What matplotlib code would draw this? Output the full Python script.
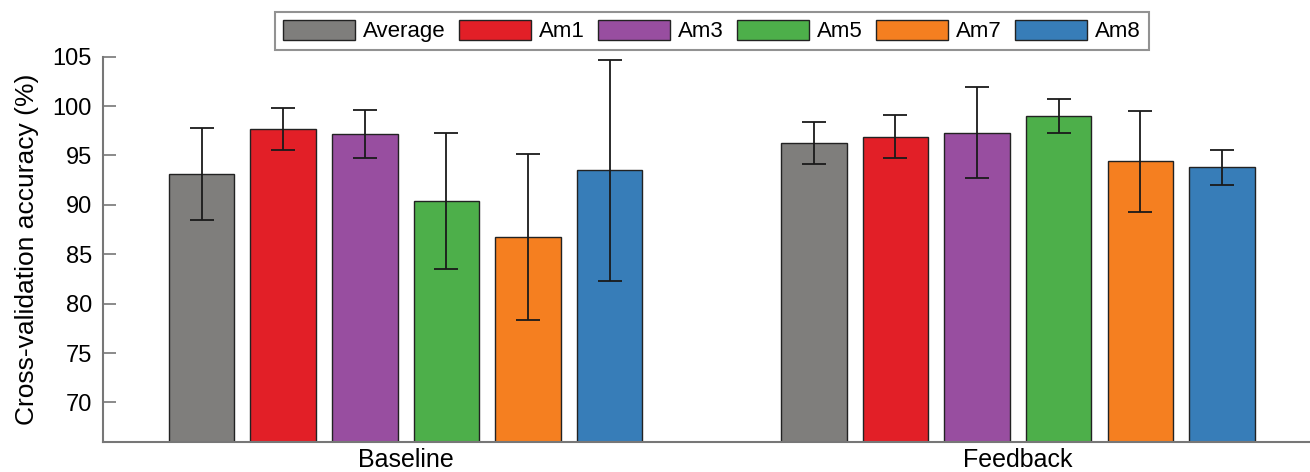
import numpy as np
import matplotlib
matplotlib.use('Agg')
import matplotlib.pyplot as plt

plt.rcParams['font.family'] = ['Liberation Sans', 'DejaVu Sans']

# data
groups = ['Baseline', 'Feedback']
series = ['Average', 'Am1', 'Am3', 'Am5', 'Am7', 'Am8']
baseline_mean = [93.1, 97.7, 97.2, 90.4, 86.7, 93.5]
baseline_err = [4.65, 2.15, 2.45, 6.9, 8.4, 11.2]
feedback_mean = [96.3, 96.9, 97.3, 99.0, 94.4, 93.8]
feedback_err = [2.13, 2.2, 4.6, 1.73, 5.1, 1.75]
colors = ['#7f7e7c', '#e21f27', '#984ea0', '#4daf4a', '#f57f20', '#377db8']

fig = plt.figure(figsize=(13.1, 4.72), dpi=100)
ax = fig.add_axes([0.0786, 0.0636, 0.9214, 0.8163])

x = np.arange(len(groups))
step = 0.1333
width = 0.107
for i, name in enumerate(series):
    vals = [baseline_mean[i], feedback_mean[i]]
    errs = [baseline_err[i], feedback_err[i]]
    ax.bar(x + (i - 2.5) * step, vals, width, yerr=errs, color=colors[i],
           edgecolor='#222222', linewidth=1.0, label=name,
           error_kw=dict(ecolor='#1a1a1a', elinewidth=1.3, capsize=8.5, capthick=1.3))

ax.set_ylim(66, 105)
ax.set_xlim(-0.4942, 1.477)
ax.set_yticks([70, 75, 80, 85, 90, 95, 100, 105])
ax.set_xticks(x)
ax.set_xticklabels(groups)
ax.set_ylabel('Cross-validation accuracy (%)', fontsize=19, labelpad=10)

for side in ['top', 'right']:
    ax.spines[side].set_visible(False)
for side in ['left', 'bottom']:
    ax.spines[side].set_color('#777777')
    ax.spines[side].set_linewidth(1.5)
ax.tick_params(axis='y', direction='in', length=9.5, width=1.2, color='#777777',
               labelsize=17, pad=8)
ax.tick_params(axis='x', length=0, labelsize=18, pad=4)

leg = ax.legend(loc='lower center', bbox_to_anchor=(0.5045, 1.0), ncol=6, fontsize=16,
                frameon=True, fancybox=False, edgecolor='#777777',
                handlelength=3.25, handleheight=1.0, handletextpad=0.35,
                columnspacing=0.6, borderpad=0.35, borderaxespad=0.3)
leg.get_frame().set_linewidth(1.5)

plt.savefig('out.png', dpi=100)
